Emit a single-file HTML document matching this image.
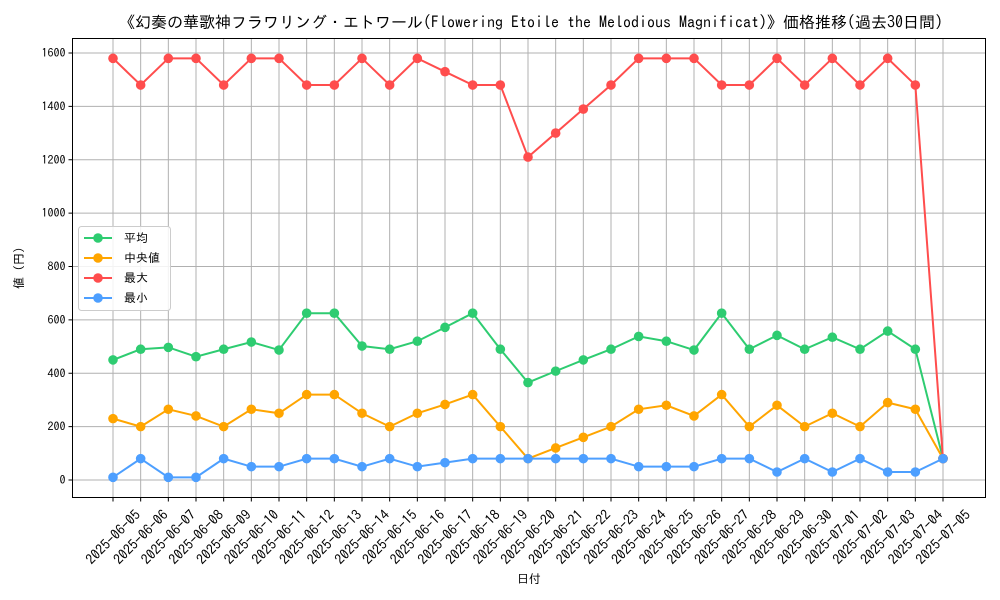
<!DOCTYPE html>
<html><head><meta charset="utf-8">
<style>
body{margin:0;background:#fff;}
svg{display:block;font-family:"IPAGothic","Noto Sans CJK JP",sans-serif;}
</style></head>
<body>
<svg id="chart" width="1000" height="600" xmlns="http://www.w3.org/2000/svg">
<text x="531" y="28" font-size="16" text-anchor="middle" fill="#000">《幻奏の華歌神フラワリング・エトワール(Flowering Etoile the Melodious Magnificat)》価格推移(過去30日間)</text>
<text x="529" y="583" font-size="12" text-anchor="middle">日付</text>
<text x="0" y="0" font-size="12" text-anchor="middle" transform="translate(23,268) rotate(-90)">値 (円)</text>
<g id="grid"></g><g id="series"></g><g id="axes"></g><g id="legend"></g>
</svg>
<script>
const dates=[];
for(let d=5;d<=30;d++)dates.push('2025-06-'+String(d).padStart(2,'0'));
for(let d=1;d<=5;d++)dates.push('2025-07-'+String(d).padStart(2,'0'));
const meanVals=[450,490,497,462,490,517,487,625,625,502,490,520,572,625,490,365,408,450,490,538,520,487,625,490,542,490,535,490,558,490,80];
const medianVals=[230,200,265,240,200,265,250,320,320,250,200,250,283,320,200,80,120,160,200,265,280,240,320,200,280,200,250,200,290,265,80];
const maxVals=[1580,1480,1580,1580,1480,1580,1580,1480,1480,1580,1480,1580,1530,1480,1480,1210,1300,1390,1480,1580,1580,1580,1480,1480,1580,1480,1580,1480,1580,1480,80];
const minVals=[10,80,10,10,80,50,50,80,80,50,80,50,65,80,80,80,80,80,80,50,50,50,80,80,30,80,30,80,30,30,80];
const yTicks=[0,200,400,600,800,1000,1200,1400,1600];
const seriesNames=['平均','中央値','最大','最小'];
const colors=['#2ecc71','#ffa500','#ff4d4d','#4d9fff'];
const NS='http://www.w3.org/2000/svg';
const L=72.5,R=985.5,T=38.5,B=497.5;
const X=i=>113+i*(830/(dates.length-1));
const Y=v=>480-v*(427/1600);
function mk(tag,attrs,parent){const e=document.createElementNS(NS,tag);for(const k in attrs)e.setAttribute(k,attrs[k]);parent.appendChild(e);return e;}
const grid=document.getElementById('grid'),axes=document.getElementById('axes'),ser=document.getElementById('series'),leg=document.getElementById('legend');
dates.forEach((d,i)=>{
 const g=mk('line',{x1:X(i),x2:X(i),y1:T,y2:B,stroke:'#b0b0b0','stroke-width':1},grid);
 
 const t=mk('line',{x1:X(i),x2:X(i),y1:B,y2:B+4,stroke:'#000'},axes);
 
 const tx=mk('text',{x:0,y:0,'font-size':14,'text-anchor':'middle','dominant-baseline':'central',transform:`translate(${X(i)},537) rotate(-45)`},axes);
 tx.textContent=d;
 
});
yTicks.forEach(v=>{
 const g=mk('line',{x1:L,x2:R,y1:Y(v),y2:Y(v),stroke:'#b0b0b0','stroke-width':1},grid);
 
 const t=mk('line',{x1:L-4,x2:L,y1:Y(v),y2:Y(v),stroke:'#000'},axes);
 
 const tx=mk('text',{x:L-7,y:Y(v)+4,'font-size':12,'text-anchor':'end'},axes);
 tx.textContent=v;
 
});
const fr=mk('rect',{x:L,y:T,width:R-L,height:B-T,fill:'none',stroke:'#000','stroke-width':1},axes);

const sn=['mean','median','max','min'];
[meanVals,medianVals,maxVals,minVals].forEach((vals,s)=>{
 const g=mk('g',{},ser);
 
 const p=mk('polyline',{points:vals.map((v,i)=>X(i)+','+Y(v)).join(' '),fill:'none',stroke:colors[s],'stroke-width':2},g);
 
 vals.forEach((v,i)=>{
  const c=mk('circle',{cx:X(i),cy:Y(v),r:4.8,fill:colors[s]},g);
  
 });
});
const lb=mk('rect',{x:78.5,y:226.5,width:92,height:84,rx:3,fill:'#fff','fill-opacity':0.85,stroke:'#ccc'},leg);

seriesNames.forEach((n,s)=>{
 const y=238+s*20;
 const g=mk('g',{},leg);
 
 mk('line',{x1:84,x2:112,y1:y,y2:y,stroke:colors[s],'stroke-width':2},g);
 mk('circle',{cx:98,cy:y,r:4.8,fill:colors[s]},g);
 const t=mk('text',{x:124,y:y+4,'font-size':12},g);t.textContent=n;
});
</script>
</body></html>
